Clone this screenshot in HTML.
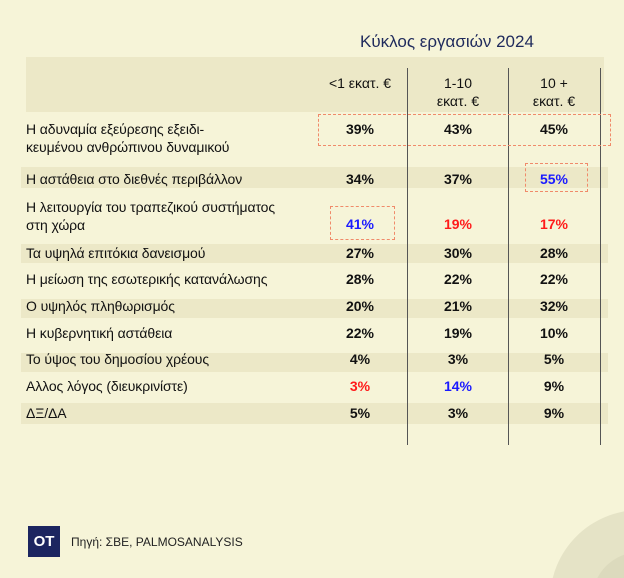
<!DOCTYPE html>
<html style="width:624px;height:578px;overflow:hidden"><head><meta charset="utf-8"><style>
body{margin:0;width:624px;height:578px;overflow:hidden;background:#f6f4d8;font-family:"Liberation Sans","DejaVu Sans",sans-serif;color:#111;position:relative}
.a{position:absolute}
.band{position:absolute;left:21px;width:587px;background:#ece8c7}
.t{position:absolute;font-size:14px;white-space:nowrap;line-height:18px;letter-spacing:-0.1px}
.v{position:absolute;font-size:14px;font-weight:bold;width:60px;text-align:center;line-height:18px;transform:translateX(-30px)}
.vl{position:absolute;width:1px;background:#555;top:68px;height:377px}
.box{position:absolute;border:1.5px dashed #f08a6a}
</style></head><body>
<div class="a" style="left:360px;top:32px;font-size:17px;color:#1f2a5c">Κύκλος εργασιών 2024</div>
<div class="a" style="left:26px;top:57px;width:578px;height:55px;background:#ece8c7"></div>
<div class="band" style="top:167px;height:21px"></div>
<div class="band" style="top:244px;height:19px"></div>
<div class="band" style="top:299px;height:19px"></div>
<div class="band" style="top:353px;height:19px"></div>
<div class="band" style="top:403px;height:21px"></div>
<div class="vl" style="left:407px"></div>
<div class="vl" style="left:508px"></div>
<div class="vl" style="left:600px"></div>
<div class="v" style="left:360px;top:74px;width:90px;transform:translateX(-45px);font-weight:normal">&lt;1 εκατ. €</div>
<div class="v" style="left:458px;top:74px;font-weight:normal">1-10<br>εκατ. €</div>
<div class="v" style="left:554px;top:74px;font-weight:normal">10 +<br>εκατ. €</div>
<div class="box" style="left:318px;top:114px;width:291px;height:30px"></div>
<div class="box" style="left:525px;top:163px;width:61px;height:27px"></div>
<div class="box" style="left:330px;top:206px;width:63px;height:32px"></div>
<div class="t" style="left:26px;top:120px">Η αδυναμία εξεύρεσης εξειδι-<br>κευμένου ανθρώπινου δυναμικού</div>
<div class="t" style="left:26px;top:170px">Η αστάθεια στο διεθνές περιβάλλον</div>
<div class="t" style="left:26px;top:198px">Η λειτουργία του τραπεζικού συστήματος<br>στη χώρα</div>
<div class="t" style="left:26px;top:244px">Τα υψηλά επιτόκια δανεισμού</div>
<div class="t" style="left:26px;top:270px">Η μείωση της εσωτερικής κατανάλωσης</div>
<div class="t" style="left:26px;top:297px">Ο υψηλός πληθωρισμός</div>
<div class="t" style="left:26px;top:324px">Η κυβερνητική αστάθεια</div>
<div class="t" style="left:26px;top:350px">Το ύψος του δημοσίου χρέους</div>
<div class="t" style="left:26px;top:377px">Αλλος λόγος (διευκρινίστε)</div>
<div class="t" style="left:26px;top:404px">ΔΞ/ΔΑ</div>
<div class="v" style="left:360px;top:120px">39%</div><div class="v" style="left:458px;top:120px">43%</div><div class="v" style="left:554px;top:120px">45%</div>
<div class="v" style="left:360px;top:170px">34%</div><div class="v" style="left:458px;top:170px">37%</div><div class="v" style="left:554px;top:170px;color:#1a1aff">55%</div>
<div class="v" style="left:360px;top:215px;color:#1a1aff">41%</div><div class="v" style="left:458px;top:215px;color:#ff1a1a">19%</div><div class="v" style="left:554px;top:215px;color:#ff1a1a">17%</div>
<div class="v" style="left:360px;top:244px">27%</div><div class="v" style="left:458px;top:244px">30%</div><div class="v" style="left:554px;top:244px">28%</div>
<div class="v" style="left:360px;top:270px">28%</div><div class="v" style="left:458px;top:270px">22%</div><div class="v" style="left:554px;top:270px">22%</div>
<div class="v" style="left:360px;top:297px">20%</div><div class="v" style="left:458px;top:297px">21%</div><div class="v" style="left:554px;top:297px">32%</div>
<div class="v" style="left:360px;top:324px">22%</div><div class="v" style="left:458px;top:324px">19%</div><div class="v" style="left:554px;top:324px">10%</div>
<div class="v" style="left:360px;top:350px">4%</div><div class="v" style="left:458px;top:350px">3%</div><div class="v" style="left:554px;top:350px">5%</div>
<div class="v" style="left:360px;top:377px;color:#ff1a1a">3%</div><div class="v" style="left:458px;top:377px;color:#1a1aff">14%</div><div class="v" style="left:554px;top:377px">9%</div>
<div class="v" style="left:360px;top:404px">5%</div><div class="v" style="left:458px;top:404px">3%</div><div class="v" style="left:554px;top:404px">9%</div>
<div class="a" style="left:28px;top:526px;width:32px;height:31px;background:#1c2560;color:#fff;font-weight:bold;font-size:15px;text-align:center;line-height:31px">OT</div>
<div class="a" style="left:71px;top:535px;font-size:12px;color:#222">Πηγή: ΣΒΕ, PALMOSANALYSIS</div>
<svg class="a" style="left:550px;top:508px" width="74" height="70" viewBox="0 0 74 70">
<circle cx="90" cy="92" r="90" fill="#e5e3c6"/>
<circle cx="90" cy="92" r="48" fill="#dcdabd"/>
</svg>
</body></html>
